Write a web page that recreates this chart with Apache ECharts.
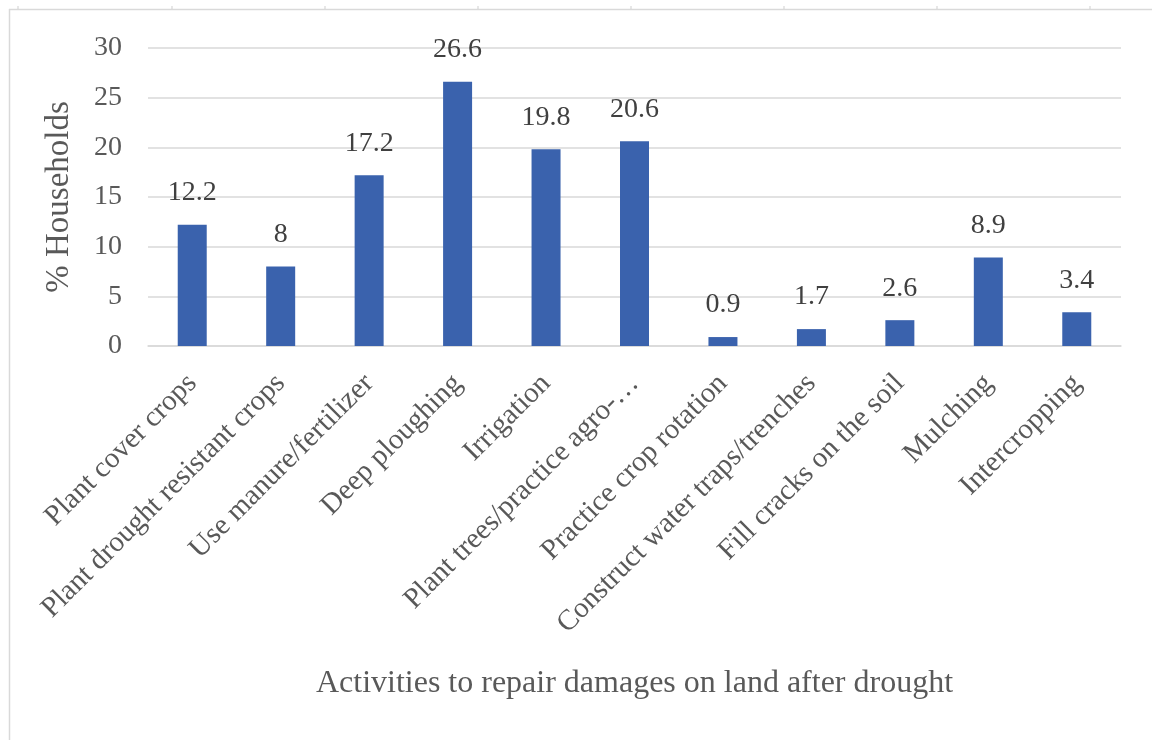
<!DOCTYPE html>
<html>
<head>
<meta charset="utf-8">
<script src="https://cdn.jsdelivr.net/npm/echarts@6/dist/echarts.min.js"></script>
<style>
  html, body { margin: 0; padding: 0; background: #ffffff; }
  #chart { width: 1152px; height: 740px; }
</style>
</head>
<body>
<div id="chart"></div>
<script>
// Activities households use to repair land after drought (% of households)
const categories = [
  'Plant cover crops',
  'Plant drought resistant crops',
  'Use manure/fertilizer',
  'Deep ploughing',
  'Irrigation',
  'Plant trees/practice agro-…',
  'Practice crop rotation',
  'Construct water traps/trenches',
  'Fill cracks on the soil',
  'Mulching',
  'Intercropping'
];
const householdShare = [12.2, 8, 17.2, 26.6, 19.8, 20.6, 0.9, 1.7, 2.6, 8.9, 3.4];
const yTicks = { min: 0, max: 30, interval: 5 };

const serif = '"Liberation Serif", "DejaVu Serif", serif';
const textColor = '#595959';

const chart = echarts.init(document.getElementById('chart'), null, { renderer: 'canvas' });

// light frame along the top and left edges, with small tick marks on the top edge
const frameTicks = [18, 172, 325, 478, 631, 784, 937, 1090];
const frameGraphics = [
  { type: 'line', shape: { x1: 9, y1: 9.5, x2: 1152, y2: 9.5 }, style: { stroke: '#d9d9d9', lineWidth: 1.5 } },
  { type: 'line', shape: { x1: 9.5, y1: 9, x2: 9.5, y2: 740 }, style: { stroke: '#d9d9d9', lineWidth: 1.5 } }
].concat(frameTicks.map(x => ({
  type: 'line', shape: { x1: x, y1: 6, x2: x, y2: 9 }, style: { stroke: '#cfcfcf', lineWidth: 1 }
})));

chart.setOption({
  animation: false,
  backgroundColor: '#ffffff',
  graphic: frameGraphics,
  grid: { left: 148, right: 31, top: 48, bottom: 394, containLabel: false },
  xAxis: {
    type: 'category',
    data: categories,
    name: 'Activities to repair damages on land after drought',
    nameLocation: 'middle',
    nameGap: 322,
    nameTextStyle: { fontFamily: serif, fontSize: 32, color: textColor },
    axisLine: { show: true, lineStyle: { color: '#d9d9d9', width: 1.5 } },
    axisTick: { show: false },
    axisLabel: {
      interval: 0,
      rotate: 45,
      margin: 33,
      fontFamily: serif,
      fontSize: 29,
      color: textColor
    }
  },
  yAxis: {
    type: 'value',
    min: yTicks.min,
    max: yTicks.max,
    interval: yTicks.interval,
    name: '% Households',
    nameLocation: 'middle',
    nameGap: 72,
    nameRotate: 90,
    nameTextStyle: { fontFamily: serif, fontSize: 33, color: textColor },
    axisLine: { show: false },
    axisTick: { show: false },
    axisLabel: { margin: 26, fontFamily: serif, fontSize: 28, color: textColor },
    splitLine: { lineStyle: { color: '#d9d9d9', width: 1.5 } }
  },
  series: [{
    type: 'bar',
    data: householdShare,
    barWidth: 29,
    itemStyle: { color: '#3a62ad' },
    label: {
      show: true,
      position: 'top',
      distance: 18,
      fontFamily: serif,
      fontSize: 28,
      color: '#404040'
    }
  }]
});
</script>
</body>
</html>
